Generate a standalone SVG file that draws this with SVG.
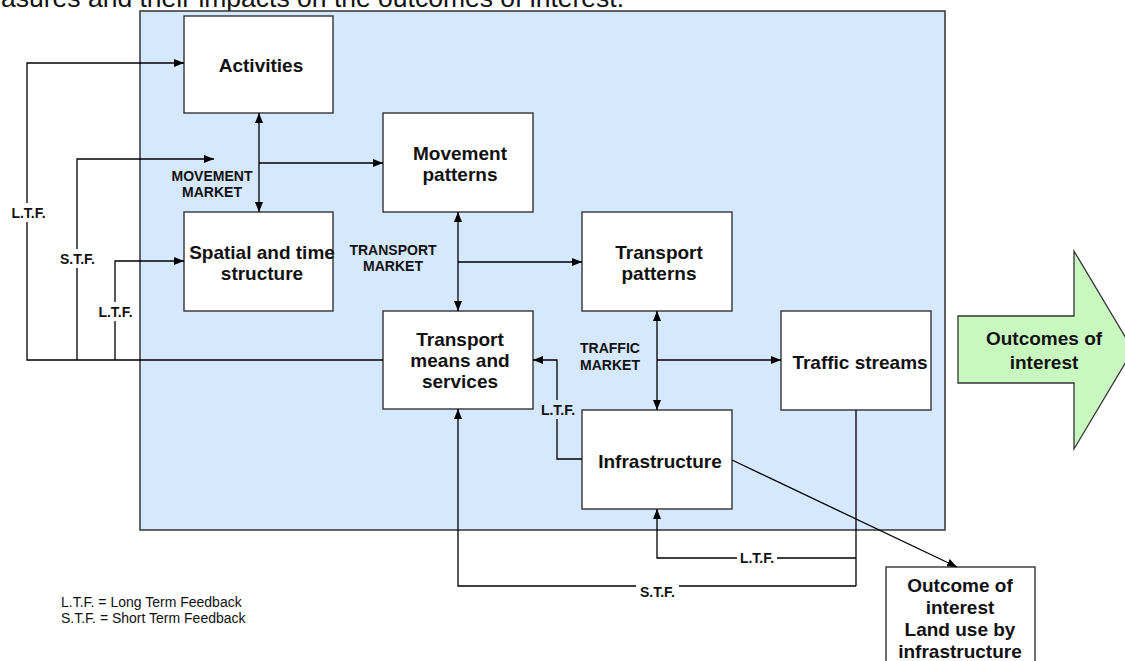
<svg xmlns="http://www.w3.org/2000/svg" width="1125" height="661" viewBox="0 0 1125 661">
  <style>
    .panel { fill: #d5e8fd; stroke: #333333; stroke-width: 1.5; }
    .box { fill: #ffffff; stroke: #333333; stroke-width: 1.4; }
    .node { font-family: "Liberation Sans", Arial, sans-serif; font-weight: bold; font-size: 19px; fill: #111111; text-anchor: middle; }
    .lbl { font-family: "Liberation Sans", Arial, sans-serif; font-weight: bold; font-size: 14px; fill: #111111; text-anchor: middle; }
    .legend { font-family: "Liberation Sans", Arial, sans-serif; font-size: 14px; fill: #111111; }
    .caption { font-family: "Liberation Sans", Arial, sans-serif; font-size: 26.5px; fill: #111111; }
    .wire { fill: none; stroke: #000000; stroke-width: 1.3; }
    .wire-arrow { fill: none; stroke: #000000; stroke-width: 1.3; marker-end: url(#head); }
    .wire-both { fill: none; stroke: #000000; stroke-width: 1.3; marker-start: url(#head); marker-end: url(#head); }
    .bg-white { fill: #ffffff; }
    .bg-blue { fill: #d5e8fd; }
    .outcome { fill: #c8f8c0; stroke: #333333; stroke-width: 1.3; }
  </style>
  <defs>
    <marker id="head" markerUnits="userSpaceOnUse" markerWidth="10" markerHeight="8" refX="10" refY="4" orient="auto-start-reverse">
      <path d="M0,0 L10,4 L0,8 z" fill="#000000"/>
    </marker>
  </defs>

  <rect width="1125" height="661" fill="#ffffff"/>

  <!-- caption line running off the top -->
  <text class="caption" x="1" y="7">asures and their impacts on the outcomes of interest.</text>

  <!-- system boundary -->
  <rect id="system" class="panel" x="140" y="11" width="805" height="519"/>

  <!-- nodes -->
  <g id="activities">
    <rect class="box" x="184" y="16" width="149" height="97"/>
    <text class="node" x="261" y="72">Activities</text>
  </g>
  <g id="spatial-time-structure">
    <rect class="box" x="184" y="212" width="149" height="99"/>
    <text class="node" x="262" y="259">Spatial and time</text>
    <text class="node" x="262" y="280">structure</text>
  </g>
  <g id="movement-patterns">
    <rect class="box" x="383" y="113" width="150" height="99"/>
    <text class="node" x="460" y="160">Movement</text>
    <text class="node" x="460" y="181">patterns</text>
  </g>
  <g id="transport-patterns">
    <rect class="box" x="582" y="212" width="150" height="99"/>
    <text class="node" x="659" y="259">Transport</text>
    <text class="node" x="659" y="280">patterns</text>
  </g>
  <g id="transport-means">
    <rect class="box" x="383" y="311" width="150" height="98"/>
    <text class="node" x="460" y="346">Transport</text>
    <text class="node" x="460" y="367">means and</text>
    <text class="node" x="460" y="388">services</text>
  </g>
  <g id="traffic-streams">
    <rect class="box" x="781" y="311" width="150" height="99"/>
    <text class="node" x="860" y="369">Traffic streams</text>
  </g>
  <g id="infrastructure">
    <rect class="box" x="582" y="410" width="150" height="99"/>
    <text class="node" x="660" y="468">Infrastructure</text>
  </g>
  <g id="outcomes-of-interest">
    <polygon class="outcome" points="958,316 1074,316 1074,251 1133,350 1074,449 1074,383 958,383"/>
    <text class="node" x="1044" y="345">Outcomes of</text>
    <text class="node" x="1044" y="369">interest</text>
  </g>
  <g id="land-use-outcome">
    <rect class="box" x="886" y="567" width="149" height="110"/>
    <text class="node" x="960" y="592">Outcome of</text>
    <text class="node" x="960" y="614">interest</text>
    <text class="node" x="960" y="636">Land use by</text>
    <text class="node" x="960" y="658">infrastructure</text>
  </g>

  <!-- connectors -->
  <g id="connectors">
    <!-- movement market -->
    <line class="wire-both" x1="259" y1="113" x2="259" y2="212"/>
    <line class="wire-arrow" x1="259" y1="163" x2="383" y2="163"/>
    <!-- transport market -->
    <line class="wire-both" x1="458" y1="212" x2="458" y2="311"/>
    <line class="wire-arrow" x1="458" y1="262" x2="582" y2="262"/>
    <!-- traffic market -->
    <line class="wire-both" x1="657" y1="311" x2="657" y2="410"/>
    <line class="wire-arrow" x1="657" y1="360" x2="781" y2="360"/>
    <!-- feedback from transport means and services -->
    <polyline class="wire-arrow" points="383,360 27,360 27,63 184,63"/>
    <polyline class="wire-arrow" points="77,360 77,159 214,159"/>
    <polyline class="wire-arrow" points="115,360 115,261 184,261"/>
    <!-- feedback from infrastructure -->
    <polyline class="wire-arrow" points="582,459 557,459 557,360 533,360"/>
    <!-- feedback from traffic streams -->
    <polyline class="wire" points="856,410 856,586"/>
    <polyline class="wire-arrow" points="856,558 657,558 657,509"/>
    <polyline class="wire-arrow" points="856,586 458,586 458,409"/>
    <!-- land use -->
    <line class="wire-arrow" x1="732" y1="460" x2="957" y2="567"/>
  </g>

  <!-- market and feedback labels -->
  <g id="labels">
    <text class="lbl" x="212" y="181">MOVEMENT</text>
    <text class="lbl" x="212" y="197">MARKET</text>
    <text class="lbl" x="393" y="255">TRANSPORT</text>
    <text class="lbl" x="393" y="271">MARKET</text>
    <text class="lbl" x="610" y="353">TRAFFIC</text>
    <text class="lbl" x="610" y="370">MARKET</text>

    <rect class="bg-white" x="9" y="203" width="39" height="19"/>
    <text class="lbl" x="28.5" y="218">L.T.F.</text>
    <rect class="bg-white" x="57" y="249" width="41" height="19"/>
    <text class="lbl" x="77.5" y="264">S.T.F.</text>
    <rect class="bg-white" x="96" y="302" width="39" height="19"/>
    <text class="lbl" x="115.5" y="317">L.T.F.</text>
    <rect class="bg-blue" x="538" y="400" width="40" height="19"/>
    <text class="lbl" x="558" y="415">L.T.F.</text>
    <rect class="bg-white" x="737" y="549" width="40" height="18"/>
    <text class="lbl" x="757" y="563">L.T.F.</text>
    <rect class="bg-white" x="636" y="583" width="43" height="18"/>
    <text class="lbl" x="657.5" y="597">S.T.F.</text>
  </g>

  <!-- legend -->
  <g id="legend">
    <text class="legend" x="61" y="607">L.T.F. = Long Term Feedback</text>
    <text class="legend" x="61" y="623">S.T.F. = Short Term Feedback</text>
  </g>
</svg>
